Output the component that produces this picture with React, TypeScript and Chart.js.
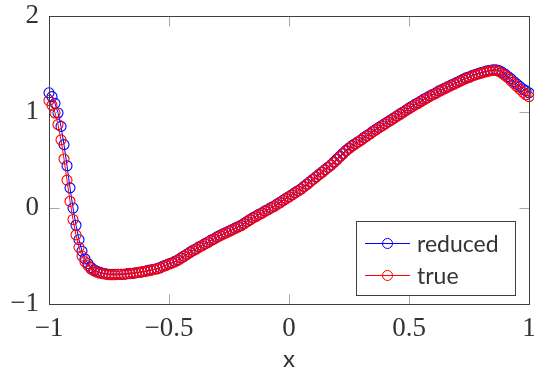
import React, { useEffect, useRef } from 'react';
import { Chart, registerables } from 'chart.js';

Chart.register(...registerables);

// sampling grid of the curves (x from -1 to 1)
const X_START = -1;
const X_STEP = 0.0125;

// "reduced" series (blue), one row per 0.1 in x
const reducedValues = [
  1.2, 1.16, 1.09, 0.99, 0.85, 0.66, 0.44, 0.21,
  0.0, -0.18, -0.33, -0.45, -0.53, -0.58, -0.62, -0.645,
  -0.66, -0.67, -0.68, -0.685, -0.69, -0.69, -0.69, -0.69,
  -0.69, -0.69, -0.685, -0.68, -0.68, -0.675, -0.67, -0.665,
  -0.66, -0.65, -0.645, -0.64, -0.63, -0.62, -0.605, -0.595,
  -0.58, -0.57, -0.555, -0.54, -0.52, -0.5, -0.48, -0.46,
  -0.44, -0.425, -0.405, -0.39, -0.37, -0.355, -0.335, -0.32,
  -0.3, -0.285, -0.27, -0.255, -0.24, -0.225, -0.21, -0.195,
  -0.18, -0.16, -0.14, -0.12, -0.1, -0.085, -0.065, -0.05,
  -0.03, -0.015, 0.005, 0.02, 0.04, 0.06, 0.08, 0.1,
  0.12, 0.14, 0.16, 0.18, 0.2, 0.225, 0.25, 0.275,
  0.3, 0.325, 0.35, 0.375, 0.4, 0.425, 0.45, 0.48,
  0.51, 0.54, 0.57, 0.6, 0.625, 0.65, 0.67, 0.69,
  0.71, 0.735, 0.755, 0.775, 0.8, 0.82, 0.84, 0.86,
  0.88, 0.9, 0.92, 0.94, 0.96, 0.98, 1.0, 1.02,
  1.04, 1.06, 1.08, 1.095, 1.115, 1.135, 1.15, 1.17,
  1.185, 1.2, 1.22, 1.235, 1.25, 1.265, 1.28, 1.295,
  1.31, 1.325, 1.34, 1.355, 1.365, 1.38, 1.39, 1.4,
  1.41, 1.42, 1.428, 1.435, 1.44, 1.44, 1.432, 1.415,
  1.395, 1.37, 1.345, 1.315, 1.29, 1.265, 1.24, 1.22,
  1.2,
];

// "true" series (red)
const trueValues = [
  1.12, 1.07, 0.99, 0.87, 0.71, 0.51, 0.29, 0.07,
  -0.12, -0.28, -0.41, -0.5, -0.56, -0.6, -0.635, -0.655,
  -0.67, -0.68, -0.685, -0.69, -0.695, -0.695, -0.695, -0.69,
  -0.69, -0.69, -0.685, -0.685, -0.68, -0.675, -0.67, -0.665,
  -0.66, -0.655, -0.65, -0.64, -0.635, -0.625, -0.61, -0.6,
  -0.585, -0.575, -0.56, -0.545, -0.525, -0.505, -0.485, -0.465,
  -0.445, -0.43, -0.41, -0.395, -0.375, -0.36, -0.34, -0.325,
  -0.305, -0.29, -0.275, -0.26, -0.245, -0.23, -0.215, -0.2,
  -0.185, -0.165, -0.145, -0.125, -0.105, -0.09, -0.07, -0.055,
  -0.035, -0.02, 0.0, 0.015, 0.035, 0.055, 0.075, 0.095,
  0.115, 0.135, 0.155, 0.175, 0.195, 0.22, 0.245, 0.27,
  0.295, 0.32, 0.345, 0.37, 0.395, 0.42, 0.445, 0.473,
  0.503, 0.532, 0.562, 0.592, 0.618, 0.643, 0.664, 0.684,
  0.704, 0.728, 0.749, 0.769, 0.793, 0.814, 0.834, 0.854,
  0.874, 0.894, 0.914, 0.934, 0.954, 0.974, 0.994, 1.014,
  1.034, 1.054, 1.073, 1.089, 1.108, 1.128, 1.144, 1.163,
  1.179, 1.194, 1.213, 1.228, 1.244, 1.259, 1.274, 1.289,
  1.304, 1.319, 1.334, 1.348, 1.359, 1.373, 1.384, 1.394,
  1.404, 1.413, 1.421, 1.428, 1.432, 1.432, 1.422, 1.404,
  1.38, 1.355, 1.325, 1.295, 1.265, 1.235, 1.205, 1.18,
  1.16,
];

const xValues = reducedValues.map((_, i) => +(X_START + i * X_STEP).toFixed(4));

const xTicks = [-1, -0.5, 0, 0.5, 1];
const yTicks = [-1, 0, 1, 2];
const seriesLabels = ['reduced', 'true'];
const seriesColors = ['#0000ff', '#ff0000'];
const xAxisTitle = 'x';

const fmt = (v: number) => String(v).replace('-', '\u2212');

const TICK_LEN = 10;

const zeroPad = (s: any) => {
  s.paddingTop = 0;
  s.paddingBottom = 0;
  s.paddingLeft = 0;
  s.paddingRight = 0;
};

const framePlugin = {
  id: 'frameTicks',
  afterDatasetsDraw(chart: any) {
    const { ctx, chartArea, scales } = chart;
    const { left, right, top, bottom } = chartArea;
    const r = (v: number) => Math.round(v) + 0.5;
    ctx.save();
    ctx.lineWidth = 1;
    ctx.strokeStyle = '#a8a8a8';
    ctx.beginPath();
    xTicks.forEach((v) => {
      if (v === xTicks[0] || v === xTicks[xTicks.length - 1]) return;
      const px = r(scales.x.getPixelForValue(v));
      ctx.moveTo(px, r(bottom));
      ctx.lineTo(px, r(bottom) - TICK_LEN);
      ctx.moveTo(px, r(top));
      ctx.lineTo(px, r(top) + TICK_LEN);
    });
    yTicks.forEach((v) => {
      if (v === yTicks[0] || v === yTicks[yTicks.length - 1]) return;
      const py = r(scales.y.getPixelForValue(v));
      ctx.moveTo(r(left), py);
      ctx.lineTo(r(left) + TICK_LEN, py);
      ctx.moveTo(r(right), py);
      ctx.lineTo(r(right) - TICK_LEN, py);
    });
    ctx.stroke();
    ctx.strokeStyle = '#404040';
    ctx.strokeRect(r(left), r(top), Math.round(right) - Math.round(left), Math.round(bottom) - Math.round(top));

    // legend box (inside plot, bottom right)
    const bx = Math.round(right) - 173;
    const by = Math.round(bottom) - 83;
    const bw = 159;
    const bh = 74;
    ctx.fillStyle = '#ffffff';
    ctx.fillRect(bx, by, bw, bh);
    ctx.strokeStyle = '#404040';
    ctx.strokeRect(bx + 0.5, by + 0.5, bw, bh);
    const rowsY = [by + 22, by + 54];
    seriesLabels.forEach((label, i) => {
      const ly = rowsY[i] + 0.5;
      ctx.strokeStyle = seriesColors[i];
      ctx.lineWidth = 1;
      ctx.beginPath();
      ctx.moveTo(bx + 9, ly);
      ctx.lineTo(bx + 54, ly);
      ctx.stroke();
      ctx.beginPath();
      ctx.arc(bx + 31.5, ly, 5, 0, Math.PI * 2);
      ctx.stroke();
      ctx.fillStyle = '#333333';
      ctx.font = '23px Lato';
      ctx.textAlign = 'left';
      ctx.textBaseline = 'alphabetic';
      ctx.fillText(label, bx + 61, ly + 8);
    });
    ctx.restore();
  },
};

export default function App() {
  const canvasRef = useRef<HTMLCanvasElement | null>(null);

  useEffect(() => {
    if (!canvasRef.current) return;
    const makeData = (vals: number[]) => xValues.map((x, i) => ({ x, y: vals[i] }));
    const chart = new Chart(canvasRef.current, {
      type: 'line',
      data: {
        datasets: [
          {
            label: seriesLabels[0],
            data: makeData(reducedValues),
            borderColor: seriesColors[0],
            borderWidth: 1,
            pointRadius: 5,
            pointBorderWidth: 1.1,
            pointBorderColor: seriesColors[0],
            pointBackgroundColor: 'rgba(0,0,0,0)',
            fill: false,
            tension: 0,
            clip: false as any,
            order: 1,
          },
          {
            label: seriesLabels[1],
            data: makeData(trueValues),
            borderColor: seriesColors[1],
            borderWidth: 1,
            pointRadius: 5,
            pointBorderWidth: 1.1,
            pointBorderColor: seriesColors[1],
            pointBackgroundColor: 'rgba(0,0,0,0)',
            fill: false,
            tension: 0,
            clip: false as any,
            order: 0,
          },
        ],
      },
      options: {
        animation: false,
        responsive: true,
        maintainAspectRatio: false,
        layout: { autoPadding: false, padding: { top: 16, right: 5, left: 0, bottom: 0 } },
        plugins: {
          legend: { display: false },
          tooltip: { enabled: false },
        },
        scales: {
          x: {
            type: 'linear',
            min: -1,
            max: 1,
            afterBuildTicks: (s: any) => {
              s.ticks = xTicks.map((v) => ({ value: v }));
            },
            afterFit: (s: any) => {
              s.height = 63;
              zeroPad(s);
            },
            grid: { display: false, drawTicks: false },
            border: { display: false },
            ticks: {
              padding: 9,
              color: '#333333',
              font: { family: 'Liberation Serif', size: 27 },
              maxRotation: 0,
              autoSkip: false,
              callback: (v: any) => fmt(Number(v)),
            },
            title: {
              display: true,
              text: xAxisTitle,
              color: '#333333',
              font: { family: 'Lato', size: 24, lineHeight: 0.67 },
              padding: { top: 0, bottom: 0 },
            },
          },
          y: {
            type: 'linear',
            min: -1,
            max: 2,
            afterBuildTicks: (s: any) => {
              s.ticks = yTicks.map((v) => ({ value: v }));
            },
            afterFit: (s: any) => {
              s.width = 49;
              zeroPad(s);
            },
            grid: { display: false, drawTicks: false },
            border: { display: false },
            ticks: {
              padding: 10,
              color: '#333333',
              font: { family: 'Liberation Serif', size: 27 },
              autoSkip: false,
              callback: (v: any) => fmt(Number(v)),
            },
          },
        },
      },
      plugins: [framePlugin],
    });
    return () => chart.destroy();
  }, []);

  return (
    <div style={{ position: 'fixed', left: 0, top: 0, width: 534, height: 367, background: '#ffffff' }}>
      <canvas ref={canvasRef} />
    </div>
  );
}
